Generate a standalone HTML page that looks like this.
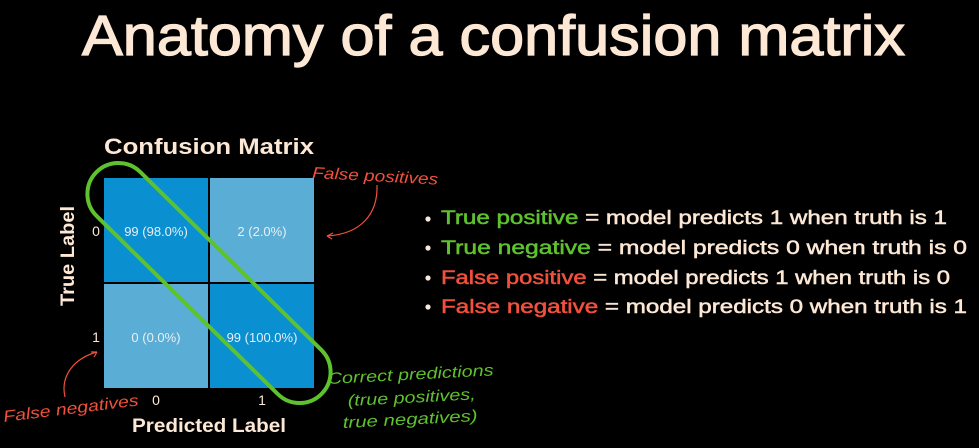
<!DOCTYPE html>
<html><head><meta charset="utf-8"><style>
html,body{margin:0;padding:0;background:#000;width:979px;height:448px;overflow:hidden}
svg{display:block}
text{font-family:"Liberation Sans",sans-serif}
</style></head><body>
<svg width="979" height="448" viewBox="0 0 979 448" xmlns="http://www.w3.org/2000/svg">
<rect width="979" height="448" fill="#000"/>
<text x="82" y="55" font-size="57" fill="#fde8d6" stroke="#fde8d6" stroke-width="1.3" textLength="823" lengthAdjust="spacingAndGlyphs">Anatomy of a confusion matrix</text>
<text x="104" y="154" font-size="22" font-weight="bold" fill="#fde8d6" textLength="210" lengthAdjust="spacingAndGlyphs">Confusion Matrix</text>
<rect x="104" y="178" width="104" height="104" fill="#0a8fd0"/>
<rect x="210" y="178" width="104" height="104" fill="#5aaed6"/>
<rect x="104" y="284" width="104" height="104" fill="#5aaed6"/>
<rect x="210" y="284" width="104" height="104" fill="#0a8fd0"/>
<g font-size="13" fill="#e8eef3" text-anchor="middle">
<text x="156" y="236">99 (98.0%)</text>
<text x="262" y="236">2 (2.0%)</text>
<text x="156" y="342">0 (0.0%)</text>
<text x="262" y="342">99 (100.0%)</text>
</g>
<g font-size="14" fill="#fde8d6" text-anchor="middle">
<text x="96" y="236">0</text><text x="96" y="342">1</text>
<text x="156" y="405">0</text><text x="262" y="405">1</text>
</g>
<text x="209" y="432" font-size="19" font-weight="bold" fill="#fde8d6" text-anchor="middle" textLength="154" lengthAdjust="spacingAndGlyphs">Predicted Label</text>
<text transform="translate(74,256) rotate(-90)" font-size="19" font-weight="bold" fill="#fde8d6" text-anchor="middle" textLength="100" lengthAdjust="spacingAndGlyphs">True Label</text>
<rect x="51" y="252" width="316" height="62" rx="31" transform="rotate(44.5 209 283)" fill="none" stroke="#5ec22e" stroke-width="4"/>
<g font-style="italic">
<text x="312" y="178" font-size="16" fill="#f0503c" transform="rotate(3 312 178)" textLength="126" lengthAdjust="spacingAndGlyphs">False positives</text>
<text x="4" y="422" font-size="16" fill="#f0503c" transform="rotate(-7 4 422)" textLength="136" lengthAdjust="spacingAndGlyphs">False negatives</text>
<text x="328" y="384" font-size="16" fill="#5ec22e" transform="rotate(-3 328 384)" textLength="166" lengthAdjust="spacingAndGlyphs">Correct predictions</text>
<text x="348" y="406" font-size="16" fill="#5ec22e" transform="rotate(-3 348 406)" textLength="128" lengthAdjust="spacingAndGlyphs">(true positives,</text>
<text x="343" y="428" font-size="16" fill="#5ec22e" transform="rotate(-3 343 428)" textLength="135" lengthAdjust="spacingAndGlyphs">true negatives)</text>
</g>
<path d="M377 185 C378 215 360 234 327 236" fill="none" stroke="#f0503c" stroke-width="1.2"/>
<path d="M327 236 l6 -3 M327 236 l5 3" stroke="#f0503c" stroke-width="1.2"/>
<path d="M65 397 C60 375 75 358 97 352" fill="none" stroke="#f0503c" stroke-width="1.2"/>
<path d="M97 352 l-6 0 M97 352 l-3 5" stroke="#f0503c" stroke-width="1.2"/>
<g font-size="19" fill="#fde8d6">
<circle cx="428" cy="219" r="2.6"/><circle cx="428" cy="248" r="2.6"/><circle cx="428" cy="278" r="2.6"/><circle cx="428" cy="307" r="2.6"/>
<g stroke-width="0.5">
<text x="441" y="224" stroke="#fde8d6" textLength="506" lengthAdjust="spacingAndGlyphs"><tspan fill="#5ec22e" stroke="#5ec22e">True positive</tspan> = model predicts 1 when truth is 1</text>
<text x="441" y="254" stroke="#fde8d6" textLength="526" lengthAdjust="spacingAndGlyphs"><tspan fill="#5ec22e" stroke="#5ec22e">True negative</tspan> = model predicts 0 when truth is 0</text>
<text x="441" y="284" stroke="#fde8d6" textLength="509" lengthAdjust="spacingAndGlyphs"><tspan fill="#f0503c" stroke="#f0503c">False positive</tspan> = model predicts 1 when truth is 0</text>
<text x="441" y="313" stroke="#fde8d6" textLength="526" lengthAdjust="spacingAndGlyphs"><tspan fill="#f0503c" stroke="#f0503c">False negative</tspan> = model predicts 0 when truth is 1</text>
</g>
</g>
</svg>
</body></html>
